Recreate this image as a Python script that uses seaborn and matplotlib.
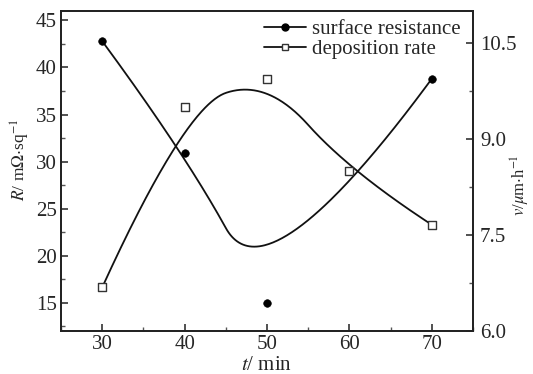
import numpy as np
import matplotlib
matplotlib.use('Agg')
import matplotlib.pyplot as plt
import seaborn as sns
from matplotlib.ticker import MultipleLocator, FormatStrFormatter
from matplotlib.lines import Line2D

# data
time_min = [30, 40, 50, 70]
resistance = [42.8, 30.9, 15.0, 38.8]          # mOhm/sq, left axis
time_dep = [30, 40, 50, 60, 70]
dep_rate = [6.68, 9.50, 9.94, 8.50, 7.66]      # um/h, right axis


def bspline2(xs, ys, n=120):
    # clamped uniform quadratic B-spline with the data as control points
    P = np.column_stack([xs, ys]).astype(float)
    m = len(P)
    t = np.linspace(0, 1, n)[:, None]
    segs = []
    for k in range(1, m - 1):
        s = P[0] if k == 1 else (P[k - 1] + P[k]) / 2
        e = P[-1] if k == m - 2 else (P[k] + P[k + 1]) / 2
        segs.append((1 - t) ** 2 * s + 2 * t * (1 - t) * P[k] + t ** 2 * e)
    return np.vstack(segs)


sns.set_style('ticks')
plt.rcParams['font.family'] = ['Liberation Serif', 'DejaVu Serif']
plt.rcParams['mathtext.fontset'] = 'stix'
plt.rcParams['axes.linewidth'] = 1.3
plt.rcParams['axes.edgecolor'] = '#222222'

fig = plt.figure(figsize=(5.33, 3.74), dpi=100)
ax = fig.add_axes([0.1144, 0.115, 0.773, 0.8556])
ax2 = ax.twinx()

res_curve = bspline2(time_min, resistance)
dep_curve = bspline2(time_dep, dep_rate)

ax.plot(res_curve[:, 0], res_curve[:, 1], color='#111111', lw=1.3, zorder=2)
sns.scatterplot(x=time_min, y=resistance, ax=ax, marker='o', s=30,
                color='black', edgecolor='black', zorder=3)

ax2.plot(dep_curve[:, 0], dep_curve[:, 1], color='#111111', lw=1.3, zorder=2)
sns.scatterplot(x=time_dep, y=dep_rate, ax=ax2, marker='s', s=28,
                facecolor='white', edgecolor='#333333', linewidth=1.0, zorder=3)

ax.set_xlim(25, 75)
ax.set_ylim(12, 46)
ax2.set_ylim(6.0, 11.0)

ax.xaxis.set_major_locator(MultipleLocator(10))
ax.xaxis.set_minor_locator(MultipleLocator(5))
ax.yaxis.set_major_locator(MultipleLocator(5))
ax.yaxis.set_minor_locator(MultipleLocator(2.5))
ax2.yaxis.set_major_locator(MultipleLocator(1.5))
ax2.yaxis.set_minor_locator(MultipleLocator(0.75))
ax2.yaxis.set_major_formatter(FormatStrFormatter('%.1f'))

for a in (ax, ax2):
    a.tick_params(which='major', direction='in', length=5, width=1.1,
                  labelsize=15, color='#222222', pad=3)
    a.tick_params(which='minor', direction='in', length=3, width=1.0,
                  color='#555555')
ax.tick_params(axis='x', which='both', top=False, pad=3)
ax2.tick_params(axis='y', which='both', left=False, right=True, pad=5)

for a in (ax, ax2):
    for sp in a.spines.values():
        sp.set_visible(True)

ax.set_xlabel(r'$t$/ min', fontsize=15)
ax.xaxis.set_label_coords(0.5, -0.078)
ax.set_ylabel(r'$R$/ m$\Omega$$\cdot$sq$^{-1}$', fontsize=12.5)
ax.yaxis.set_label_coords(-0.07, 0.534)
ax2.set_ylabel(r'$v$/$\mu$m$\cdot$h$^{-1}$', fontsize=12, rotation=90)
ax2.yaxis.set_label_coords(1.088, 0.456)

handles = [
    Line2D([], [], color='#111111', lw=1.3, marker='o', markersize=5,
           markerfacecolor='black', markeredgecolor='black'),
    Line2D([], [], color='#111111', lw=1.3, marker='s', markersize=5,
           markerfacecolor='white', markeredgecolor='#333333'),
]
ax2.legend(handles, ['surface resistance', 'deposition rate'], loc='upper right',
           bbox_to_anchor=(1.0, 1.012), frameon=False, fontsize=15,
           handlelength=2.0, handletextpad=0.3, labelspacing=0.0,
           borderaxespad=0.2)

fig.savefig('out.png', dpi=100)
